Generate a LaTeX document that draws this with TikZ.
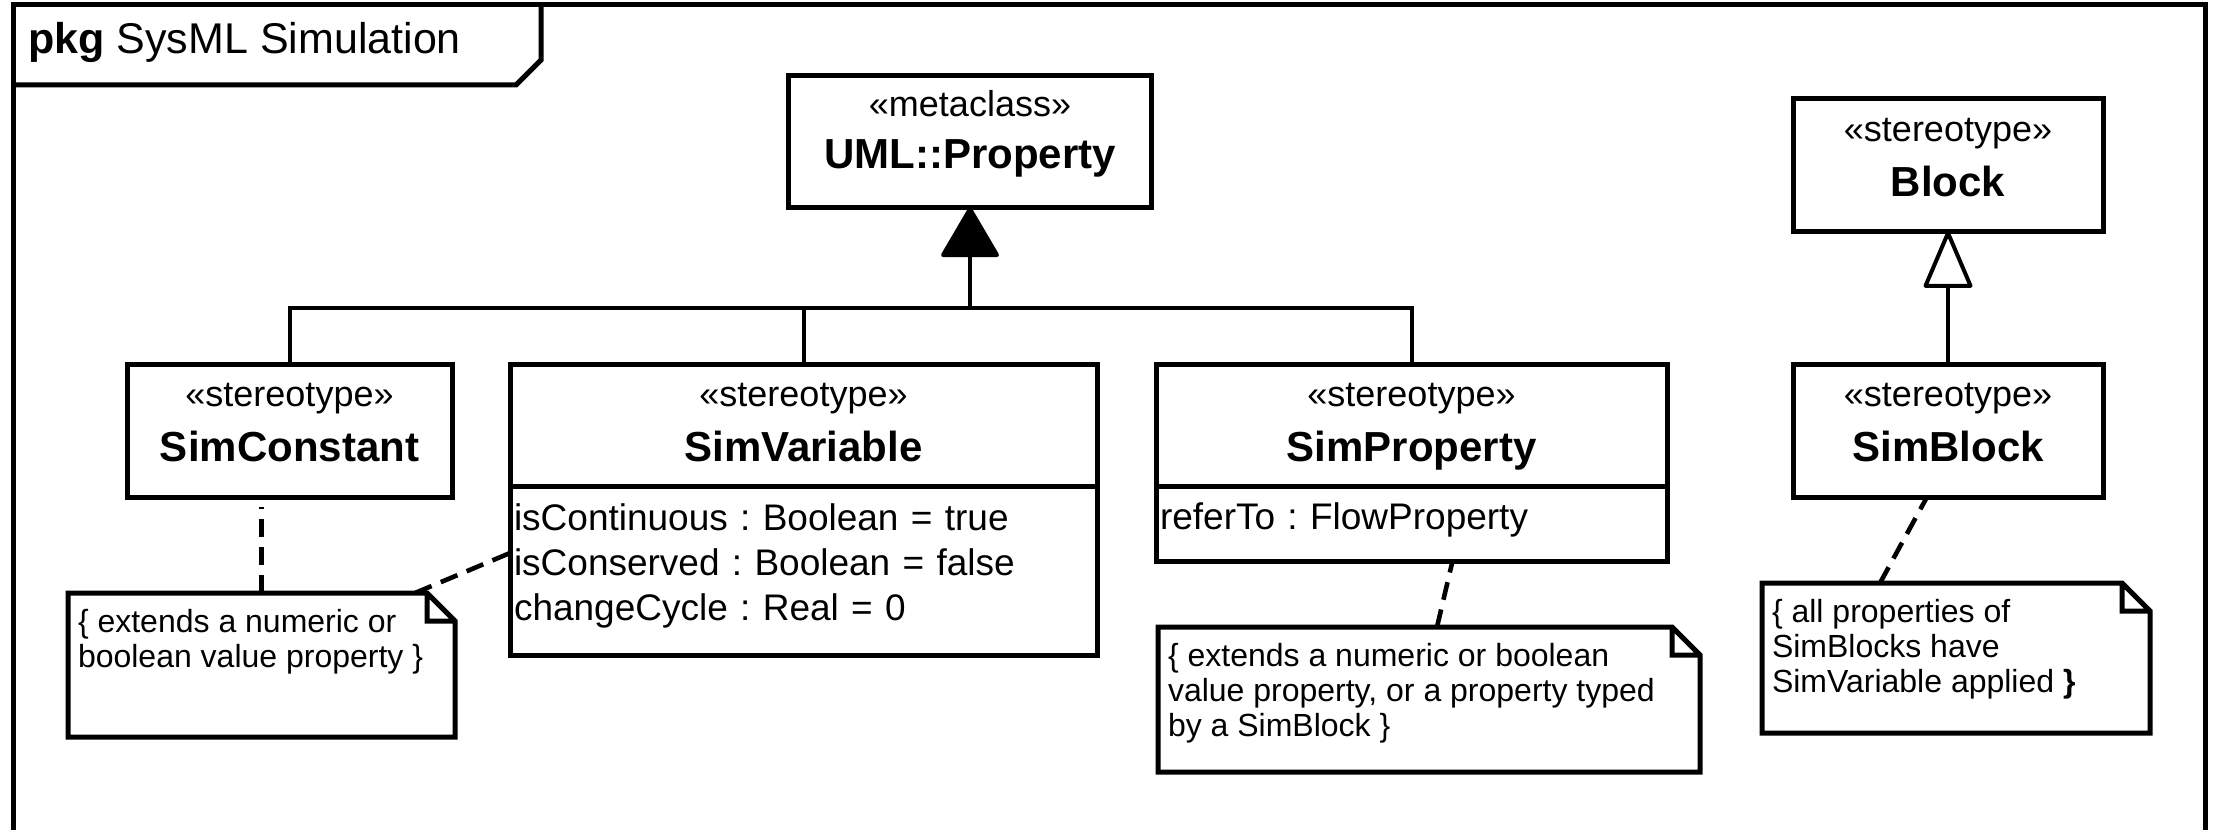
\documentclass[tikz,border=0pt]{standalone}
\usepackage{fontspec}
\setmainfont{Liberation Sans}
\frenchspacing
\usetikzlibrary{arrows.meta}
\usetikzlibrary{positioning}
\tikzset{
	frame/.style={draw=black, line width=2.5pt},
	umlbox/.style={
		rectangle,
		draw=black, line width=2.5pt,
		inner sep=0pt, outer sep=0pt},
	headtext/.style={
		anchor=north,
		align=center,
		inner sep=0pt,
		yshift=-9.5pt,
		font=\fontsize{18}{27.5}\selectfont},
	attrbox/.style={
		umlbox,
		inner xsep=2pt,
		align=left,
		font=\fontsize{18.5}{22.5}\selectfont},
	notebox/.style={
		anchor=north west,
		inner xsep=5pt, inner ysep=8pt, outer sep=0pt,
		font=\fontsize{16}{17.5}\selectfont},
	noteline/.style={draw=black, line width=2.5pt, line join=miter},
	tree/.style={draw=black, line width=2pt},
	extend/.style={tree, -{Triangle[width=30pt, length=26pt, round]}},
	general/.style={tree, -{Triangle[open, width=25pt, length=30pt, round, fill=white]}},
	anchorline/.style={draw=black, line width=2.3pt, dash pattern=on 9pt off 5pt},
}
\newcommand{\stname}[1]{{\fontsize{21}{27.5}\selectfont\bfseries #1}}
\newcommand{\lowpad}{\rule[-8pt]{0pt}{8pt}}

\begin{document}
\begin{tikzpicture}
	[x=0.5pt, y=-0.5pt, node distance=0pt]
	
	\useasboundingbox (0,0) rectangle (2214,829);
	
	% package frame
	\draw[frame] (13,840) -- (13,5) -- (2205,5) -- (2205,840);
	\draw[frame] (13,85) -- (516,85) -- (541,60) -- (541,5);
	\node[anchor=base west, inner sep=0pt, font=\fontsize{21.5}{25}\selectfont] (pkgtitle) at (28,54) {\textbf{pkg} SysML Simulation};
	
	% stereotypes
	\node[umlbox, minimum width=181.5pt, minimum height=65.5pt,
		label={[headtext, yshift=2.5pt, font=\fontsize{18}{26}\selectfont]north:{«metaclass»\\\stname{UML::Property}}}] (umlprop) at (970,141.5) {};
	\node[umlbox, minimum width=162.5pt, minimum height=66.5pt,
		label={[headtext]north:{«stereotype»\\\stname{SimConstant}}}] (simconst) at (289.5,430.5) {};
	\node[umlbox, minimum width=293.5pt, minimum height=61pt,
		label={[headtext]north:{«stereotype»\\\stname{SimVariable}}}] (simvar) at (803.5,425) {};
	\node[attrbox, below=of simvar, minimum height=84.5pt, text width=289.5pt] (simvarattr)
		{isContinuous : Boolean = true\\isConserved : Boolean = false\\changeCycle : Real = 0\lowpad};
	\node[umlbox, minimum width=255.5pt, minimum height=61pt,
		label={[headtext]north:{«stereotype»\\\stname{SimProperty}}}] (simprop) at (1411.5,425) {};
	\node[attrbox, below=of simprop, minimum height=37.5pt, text width=251.5pt] (simpropattr)
		{referTo : FlowProperty\rule[-7pt]{0pt}{7pt}};
	\node[umlbox, minimum width=155pt, minimum height=66pt,
		label={[headtext]north:{«stereotype»\\\stname{Block}}}] (block) at (1948,165) {};
	\node[umlbox, minimum width=155pt, minimum height=66.5pt,
		label={[headtext]north:{«stereotype»\\\stname{SimBlock}}}] (simblock) at (1948,430.5) {};
	
	% notes
	\node[notebox] (constnote) at (68,593)
		{\parbox[t][56pt][t]{183.5pt}{\raggedright\{ extends a numeric or\\boolean value property \}}};
	\node[notebox] (propnote) at (1158,627)
		{\parbox[t][56.5pt][t]{261pt}{\raggedright\{ extends a numeric or boolean\\value property, or a property typed\\by a SimBlock \}}};
	\node[notebox] (blocknote) at (1762,583)
		{\parbox[t][59pt][t]{184pt}{\raggedright\{ all properties of\\SimBlocks have\\SimVariable applied \textbf{\}}}};
	\foreach \nt in {constnote,propnote,blocknote}
		\draw[noteline] (\nt.north west) -- ([xshift=-14pt]\nt.north east) -- ([yshift=-14pt]\nt.north east)
			-- (\nt.south east) -- (\nt.south west) -- cycle
			([xshift=-14pt]\nt.north east) |- ([yshift=-14pt]\nt.north east);
	
	% extensions
	\coordinate (junc) at (970,308);
	\draw[tree] (simconst.north) |- (junc) -| (simprop.north);
	\draw[tree] (simvar.north) -- (simvar.north |- junc);
	\draw[extend] (junc) -- (umlprop.south);
	\draw[general] (simblock.north) -- (block.south);
	
	% note anchors
	\draw[anchorline] (constnote.north) -- ([yshift=-5pt]constnote.north |- simconst.south);
	\draw[anchorline] ([xshift=-20pt]constnote.north east) -- ([yshift=8.75pt]simvarattr.west);
	\draw[anchorline] ([xshift=4pt]propnote.north) -- ([xshift=20.5pt]simpropattr.south);
	\draw[anchorline] ([xshift=-38pt]blocknote.north) -- ([xshift=-10.5pt]simblock.south);
	
\end{tikzpicture}
\end{document}
